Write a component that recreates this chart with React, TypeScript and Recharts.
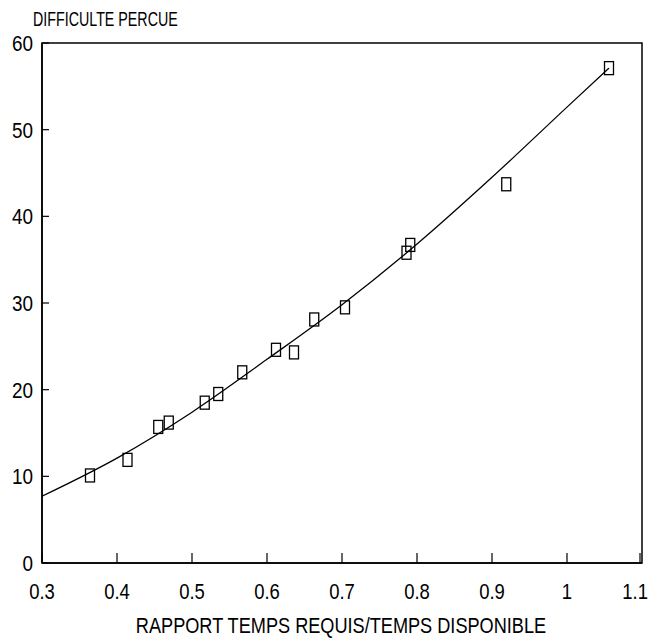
import {
  ComposedChart,
  Line,
  Scatter,
  XAxis,
  YAxis,
  ReferenceArea,
} from "recharts";

// observed points
const ratio = [0.364, 0.414, 0.455, 0.469, 0.517, 0.535, 0.567, 0.612, 0.636, 0.663, 0.704, 0.786, 0.791, 0.919, 1.056];
const difficulty = [10.1, 11.9, 15.7, 16.2, 18.5, 19.5, 22.0, 24.6, 24.3, 28.1, 29.5, 35.8, 36.7, 43.7, 57.1];

// fitted curve
const fitRatio = [0.3, 0.4, 0.5, 0.6, 0.7, 0.8, 0.9, 1.0, 1.056];
const fitDifficulty = [7.7, 12.1, 17.4, 23.5, 29.8, 36.8, 44.5, 52.6, 57.1];

const xTicks = [0.3, 0.4, 0.5, 0.6, 0.7, 0.8, 0.9, 1, 1.1];
const yTicks = [0, 10, 20, 30, 40, 50, 60];

const yTitle = "DIFFICULTE PERCUE";
const xTitle = "RAPPORT TEMPS REQUIS/TEMPS DISPONIBLE";

const points = ratio.map((x, i) => ({ x, y: difficulty[i] }));
const fit = fitRatio.map((x, i) => ({ x, y: fitDifficulty[i] }));

const FONT = "'Liberation Sans', Arial, sans-serif";
const X_MARGIN = 28;
const Y_MARGIN = 9;

function XTick({ x, y, payload, index, visibleTicksCount }: any) {
  const last = index === visibleTicksCount - 1;
  // keep the last label inside the picture
  const tx = last ? Math.min(x + 13, 648) : x;
  return (
    <g>
      <line x1={x} x2={x} y1={y - X_MARGIN} y2={y - X_MARGIN - 10} stroke="#000" strokeWidth={1.2} />
      <text
        transform={`translate(${tx},${y + 8}) scale(0.84,1)`}
        textAnchor={last ? "end" : "middle"}
        fontFamily={FONT}
        fontSize={22}
        fill="#000"
      >
        {payload.value}
      </text>
    </g>
  );
}

function YTick({ x, y, payload }: any) {
  return (
    <g>
      <line x1={x + Y_MARGIN} x2={x + Y_MARGIN + 7} y1={y} y2={y} stroke="#000" strokeWidth={1.2} />
      <text
        transform={`translate(${x},${y + 8}) scale(0.86,1)`}
        textAnchor="end"
        fontFamily={FONT}
        fontSize={22}
        fill="#000"
      >
        {payload.value}
      </text>
    </g>
  );
}

function Box({ cx, cy }: any) {
  return <rect x={cx - 4.5} y={cy - 6.5} width={9} height={13} fill="none" stroke="#000" strokeWidth={1.3} />;
}

export default function App() {
  return (
    <div style={{ position: "absolute", left: 0, top: 0, width: 650, height: 642, background: "#fff" }}>
      <ComposedChart width={650} height={642} margin={{ top: 43, right: 8, bottom: 78, left: 41 }}>
        <XAxis
          type="number"
          dataKey="x"
          domain={[0.3, 1.1]}
          ticks={xTicks}
          allowDataOverflow
          height={1}
          tickSize={0}
          tickMargin={X_MARGIN}
          tick={<XTick />}
          axisLine={{ stroke: "#000", strokeWidth: 1.5 }}
        />
        <YAxis
          type="number"
          dataKey="y"
          domain={[0, 60]}
          ticks={yTicks}
          allowDataOverflow
          width={1}
          tickSize={0}
          tickMargin={Y_MARGIN}
          tick={<YTick />}
          axisLine={{ stroke: "#000", strokeWidth: 1.5 }}
        />
        <ReferenceArea x1={0.3} x2={1.1} y1={0} y2={60} fill="none" stroke="#000" strokeWidth={1.5} fillOpacity={0} />
        <Line
          data={fit}
          dataKey="y"
          type="monotone"
          stroke="#000"
          strokeWidth={1.3}
          dot={false}
          isAnimationActive={false}
        />
        <Scatter data={points} dataKey="y" shape={<Box />} isAnimationActive={false} />
      </ComposedChart>
      <svg width={650} height={642} style={{ position: "absolute", left: 0, top: 0, pointerEvents: "none" }}>
        <text transform="translate(33,26) scale(0.68,1)" fontFamily={FONT} fontSize={21} fill="#000">
          {yTitle}
        </text>
        <text
          transform="translate(341,633) scale(0.825,1)"
          textAnchor="middle"
          fontFamily={FONT}
          fontSize={22}
          fill="#000"
        >
          {xTitle}
        </text>
      </svg>
    </div>
  );
}
